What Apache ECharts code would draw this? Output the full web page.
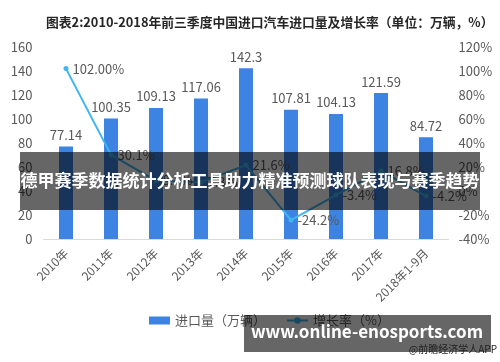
<!DOCTYPE html>
<html><head><meta charset="utf-8">
<script src="https://cdn.jsdelivr.net/npm/echarts@6/dist/echarts.min.js"></script>
<style>html,body{margin:0;padding:0;background:#fff}#c{width:500px;height:362px}</style>
</head><body><div id="c"></div>
<script>
var categories = ['2010年','2011年','2012年','2013年','2014年','2015年','2016年','2017年','2018年1-9月'];
var importVolume = [77.14, 100.35, 109.13, 117.06, 142.3, 107.81, 104.13, 121.59, 84.72];
var growthRate = [102.0, 30.1, 8.7, 7.3, 21.6, -24.2, -3.4, 16.8, -4.2];
var growthLabels = ['102.00%','30.1%','8.7%','7.3%','21.6%','-24.2%','-3.4%','16.8%','-4.2%'];
var leftTicks = {min: 0, max: 160, interval: 20};
var rightTicks = {min: -40, max: 120, interval: 20};
var titleText = '图表2:2010-2018年前三季度中国进口汽车进口量及增长率（单位：万辆，%）';
var bannerText = '德甲赛季数据统计分析工具助力精准预测球队表现与赛季趋势';
var siteText = 'www.online-enosports.com';
var sourceText = '@前瞻经济学人APP';

var FONT = '"Noto Sans CJK SC", "Noto Sans", sans-serif';
var chart = echarts.init(document.getElementById('c'));
chart.setOption({
  animation: false,
  textStyle: {fontFamily: FONT},
  title: {
    text: titleText, left: 41, top: 11,
    textStyle: {fontSize: 12.8, fontWeight: 'bold', color: '#262626', fontFamily: FONT}
  },
  legend: {
    top: 309, left: 144, itemGap: 20,
    itemWidth: 21, itemHeight: 8,
    textStyle: {fontSize: 13, color: '#595959', fontFamily: FONT},
    data: [{name: '进口量（万辆）', icon: 'rect'}, {name: '增长率（%）'}]
  },
  grid: {left: 43.5, right: 51.5, top: 47, bottom: 123},
  xAxis: {
    type: 'category', data: categories,
    axisLine: {lineStyle: {color: '#d9d9d9'}},
    axisTick: {show: false},
    axisLabel: {rotate: 45, fontSize: 12, color: '#595959', margin: 12, interval: 0}
  },
  yAxis: [
    {type: 'value', min: leftTicks.min, max: leftTicks.max, interval: leftTicks.interval,
     splitLine: {show: false}, axisLine: {show: false}, axisTick: {show: false},
     axisLabel: {fontSize: 13, color: '#595959', margin: 11}},
    {type: 'value', min: rightTicks.min, max: rightTicks.max, interval: rightTicks.interval,
     splitLine: {show: false}, axisLine: {show: false}, axisTick: {show: false},
     axisLabel: {fontSize: 13, color: '#595959', margin: 10, formatter: '{value}%'}}
  ],
  series: [
    {name: '进口量（万辆）', type: 'bar', data: importVolume, barWidth: 14,
     itemStyle: {color: '#3d83e1'},
     label: {show: true, position: 'top', distance: 5, fontSize: 13, color: '#595959'}},
    {name: '增长率（%）', type: 'line', yAxisIndex: 1, data: growthRate,
     symbol: 'circle', symbolSize: 5,
     lineStyle: {color: '#3fb5f2', width: 2}, itemStyle: {color: '#3fb5f2'},
     label: {show: true, position: 'right', distance: 4, fontSize: 13, color: '#595959',
       formatter: function (p) { return growthLabels[p.dataIndex]; }}}
  ],
  graphic: [
    {type: 'rect', z: 100, shape: {x: 20, y: 152, width: 460, height: 58},
     style: {fill: 'rgba(0,0,0,0.6)'}},
    {type: 'text', z: 101, x: 250, y: 181,
     style: {text: bannerText, fill: '#ffffff', font: 'bold 17px ' + FONT, textAlign: 'center', textVerticalAlign: 'middle'}},
    {type: 'rect', z: 100, shape: {x: 244, y: 315, width: 247, height: 37},
     style: {fill: 'rgba(0,0,0,0.6)'}},
    {type: 'text', z: 101, x: 367, y: 332,
     style: {text: siteText, fill: '#ffffff', font: 'bold 17px ' + FONT, textAlign: 'center', textVerticalAlign: 'middle'}},
    {type: 'text', z: 102, x: 497, y: 349,
     style: {text: sourceText, fill: '#222222', font: '10px ' + FONT, textAlign: 'right', textVerticalAlign: 'middle'}}
  ]
});
</script></body></html>
